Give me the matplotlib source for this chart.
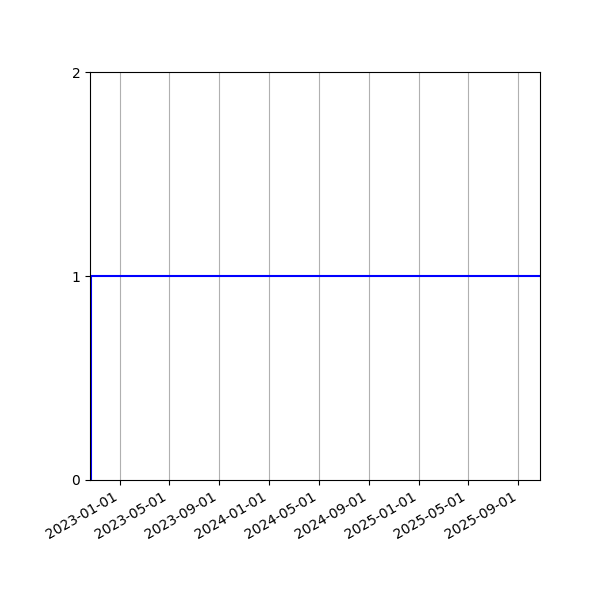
import matplotlib
matplotlib.use("Agg")
import matplotlib.pyplot as plt
import matplotlib.dates as mdates
import pandas as pd

# step series: starts at 0, jumps to 1 and stays there
dates = pd.to_datetime(["2022-10-22", "2022-10-22", "2025-10-24"])
values = [0, 1, 1]

x_start = pd.Timestamp("2022-10-20")
x_end = pd.Timestamp("2025-10-24")

fig, ax = plt.subplots(figsize=(6, 6), dpi=100)
fig.subplots_adjust(left=0.15, right=0.9, top=0.88, bottom=0.2)

ax.plot(dates, values, color="blue", drawstyle="steps-post")

ax.set_xlim(x_start, x_end)
ax.set_ylim(0, 2)
ax.set_yticks([0, 1, 2])

ax.xaxis.set_major_locator(mdates.MonthLocator(bymonth=[1, 5, 9]))
ax.xaxis.set_major_formatter(mdates.DateFormatter("%Y-%m-%d"))
ax.grid(True, axis="x")

for label in ax.get_xticklabels():
    label.set_rotation(30)
    label.set_ha("right")

fig.savefig("out.png")
